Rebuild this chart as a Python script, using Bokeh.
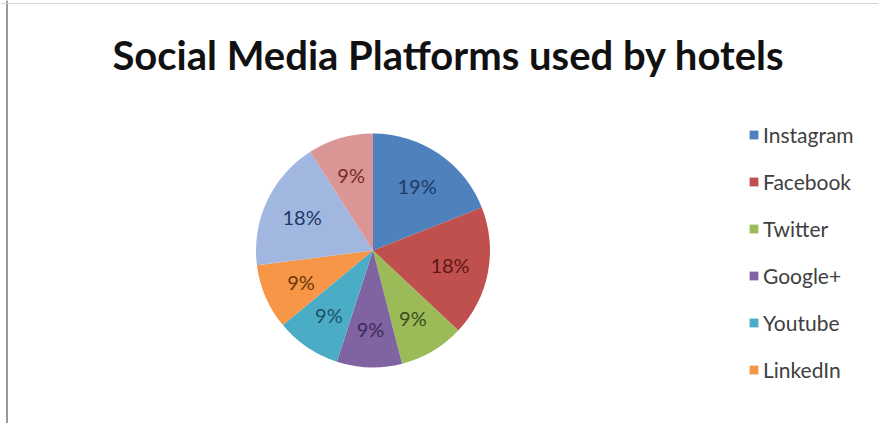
import numpy as np
from bokeh.plotting import figure
from bokeh.models import ColumnDataSource, Range1d, Legend, LegendItem, Span, Label
from bokeh.core.properties import value
from bokeh.embed import file_html
from bokeh.resources import INLINE

# ---- data ----
title_text = "Social Media Platforms used by hotels"
platforms = ["Instagram", "Facebook", "Twitter", "Google+", "Youtube", "LinkedIn", "Other 1", "Other 2"]
shares = [19, 18, 9, 9, 9, 9, 18, 9]
slice_colors = ["#4F81BD", "#C0504D", "#9BBB59", "#8064A2", "#4BACC6", "#F79646", "#A2B7E0", "#DA9694"]
label_colors = ["#1F3A63", "#5C1816", "#3B4D1A", "#3A2A57", "#1C5263", "#6A380C", "#1F3766", "#7A2828"]
legend_count = 6

W, H = 878, 423
cx, cy = 372.5, H - 250.0
R = 117

vals = np.array(shares, dtype=float)
frac = vals / vals.sum()
cum_end = np.cumsum(frac)
cum_start = cum_end - frac
start = np.pi / 2 - 2 * np.pi * cum_start
end = np.pi / 2 - 2 * np.pi * cum_end
mid = (start + end) / 2
lr = R * 0.67

src = ColumnDataSource(dict(
    name=platforms,
    share=shares,
    start=start,
    end=end,
    color=slice_colors,
    lcolor=label_colors,
    lx=cx + lr * np.cos(mid),
    ly=cy + lr * np.sin(mid),
    txt=[f"{s}%" for s in shares],
    x=[cx] * len(shares),
    y=[cy] * len(shares),
))

p = figure(width=W, height=H, x_range=Range1d(0, W), y_range=Range1d(0, H),
           output_backend="svg", toolbar_location=None, min_border=0)
p.axis.visible = False
p.grid.visible = False
p.outline_line_color = None
p.background_fill_color = "white"
p.border_fill_color = "white"

r = p.wedge(x="x", y="y", radius=R, radius_units="screen", start_angle="start", end_angle="end",
            direction="clock", fill_color="color", line_color=None, source=src)

p.text(x="lx", y="ly", text="txt", text_color="lcolor", text_align="center",
       text_baseline="middle", text_font=value("Lato"), text_font_size="20px", source=src)

# title
p.add_layout(Label(x=448, y=H - 54, text=title_text, text_align="center", text_baseline="middle",
                   text_font="Lato", text_font_style="bold", text_font_size="40px", text_color="#111111"))

# legend (first six entries visible)
items = [LegendItem(label=platforms[i], renderers=[r], index=i) for i in range(legend_count)]
legend = Legend(items=items, location=(748, 41), orientation="vertical",
                glyph_width=11, glyph_height=11, label_height=20, spacing=22, padding=0,
                margin=0, label_standoff=4, border_line_color=None, background_fill_alpha=0,
                label_text_font="Lato", label_text_font_size="21px", label_text_color="#404040")
p.add_layout(legend, "center")

# chart frame edges
p.add_layout(Span(location=6.5, dimension="height", line_color="#9A9A9A", line_width=2))
p.add_layout(Span(location=H - 3, dimension="width", line_color="#D4D4D4", line_width=1))

open("out.html", "w").write(file_html(p, INLINE))
